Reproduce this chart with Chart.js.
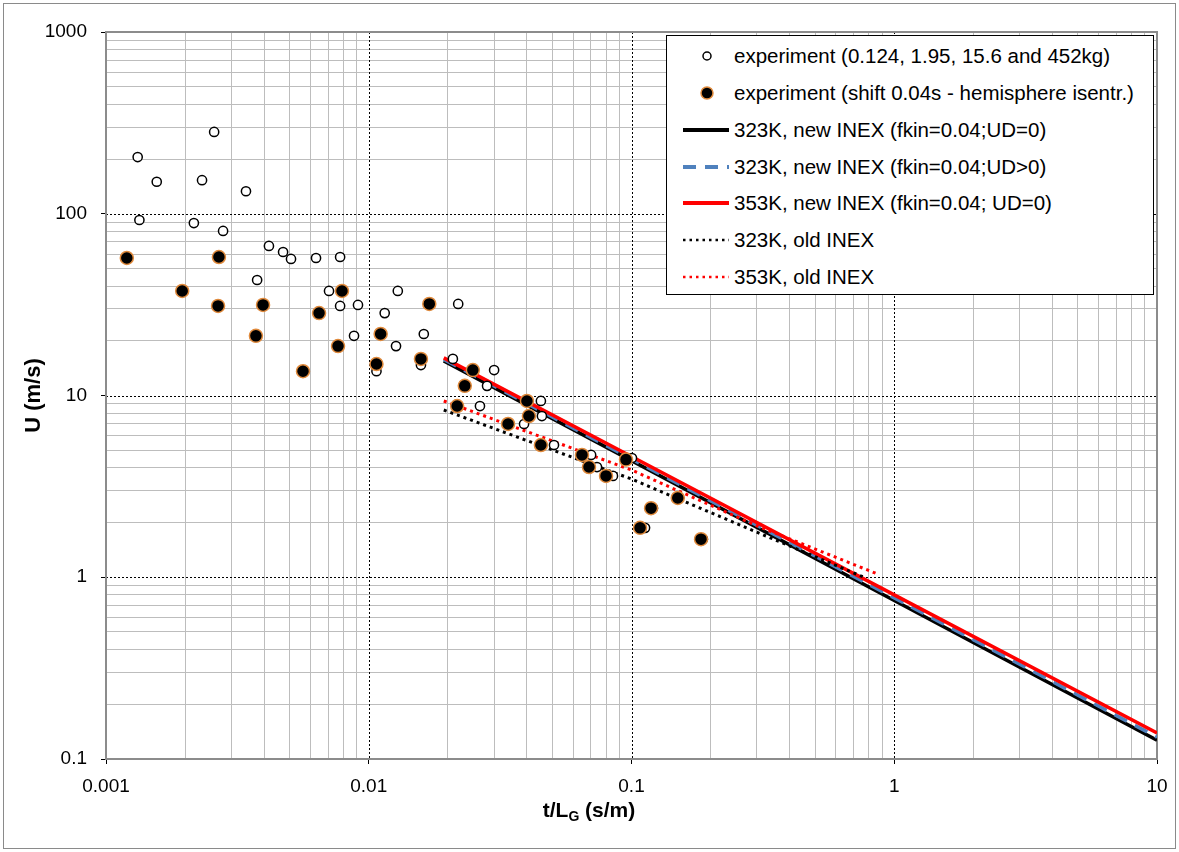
<!DOCTYPE html>
<html>
<head>
<meta charset="utf-8">
<script src="https://cdn.jsdelivr.net/npm/chart.js@4.4.1/dist/chart.umd.min.js"></script>
<style>
  html, body { margin: 0; padding: 0; background: #fff; }
  #wrap { position: relative; width: 1179px; height: 852px; }
  #frame { position: absolute; left: 3px; top: 3px; width: 1171px; height: 844px; border: 1px solid #8a8a8a; pointer-events: none; }
  #legend {
    position: absolute; left: 666px; top: 35px; width: 486px; height: 258px;
    border: 1px solid #000; background: #fff;
    font-family: "Liberation Sans", Arial, sans-serif; font-size: 20.5px; color: #000;
  }
  #legend .row { position: absolute; left: 0; height: 30px; display: flex; align-items: center; }
  #legend svg { width: 52px; height: 30px; margin-left: 14px; }
  #legend span { margin-left: 1px; white-space: nowrap; }
</style>
</head>
<body>
<div id="wrap">
  <canvas id="chart" width="1179" height="852"></canvas>
  <div id="frame"></div>
  <div id="legend"></div>
</div>
<script>
/* ---------- Daten ---------- */

// experiment (0.124, 1.95, 15.6 and 452kg)
const expT = [0.00132, 0.00156, 0.00232, 0.00258, 0.00341, 0.00134, 0.00216, 0.00279,
  0.00417, 0.00472, 0.00506, 0.0063, 0.00778, 0.00376, 0.00706, 0.00778, 0.0091, 0.00879,
  0.0129, 0.0115, 0.0127, 0.0162, 0.0107, 0.0158, 0.0219, 0.0209, 0.0300, 0.0282, 0.0265,
  0.0452, 0.0456, 0.039, 0.0507, 0.0702, 0.0739, 0.085, 0.1004, 0.1207, 0.1126, 0.187, 0.1516];
const expU = [205, 150, 153, 282, 133, 92.4, 88.9, 80.4,
  66.5, 61.6, 56.4, 57.1, 57.8, 43.2, 37.6, 31.1, 31.5, 21.3,
  37.6, 28.4, 18.7, 21.8, 13.6, 14.7, 31.9, 15.9, 13.8, 11.3, 8.75,
  9.33, 7.71, 6.97, 5.34, 4.71, 4.04, 3.61, 4.53, 2.40, 1.87, 1.62, 2.73];

// experiment (shift 0.04s - hemisphere isentr.)
const shiftT = [0.0012, 0.00195, 0.00267, 0.00269, 0.00396, 0.00372, 0.00562, 0.00647,
  0.00764, 0.00791, 0.0111, 0.0107, 0.0158, 0.0170, 0.0249, 0.0232, 0.0217, 0.0400,
  0.0407, 0.0339, 0.0452, 0.0648, 0.0689, 0.080, 0.0953, 0.150, 0.1187, 0.1078, 0.1839];
const shiftU = [57.1, 37.6, 31.1, 57.8, 31.5, 21.3, 13.6, 28.4,
  18.7, 37.6, 21.8, 14.9, 15.9, 31.9, 13.8, 11.3, 8.75, 9.33,
  7.71, 6.97, 5.34, 4.71, 4.04, 3.61, 4.44, 2.73, 2.40, 1.87, 1.62];

// Modellkurven
const new323T = [0.0193, 0.1, 1, 10];
const new323U = [15.5, 4.38, 0.745, 0.127];
const new323udT = [0.0193, 0.1, 1, 10];
const new323udU = [15.8, 4.47, 0.77, 0.132];
const new353T = [0.0193, 0.1, 1, 10];
const new353U = [16.1, 4.62, 0.80, 0.139];
const old323T = [0.0193, 0.1, 0.3, 0.767];
const old323U = [8.32, 3.47, 1.77, 1.0];
const old353T = [0.0193, 0.1, 0.3, 0.867];
const old353U = [9.33, 3.89, 1.92, 1.04];

// Achsen
const xMajor = [0.001, 0.01, 0.1, 1, 10];
const xLabels = ['0.001', '0.01', '0.1', '1', '10'];
const yMajor = [0.1, 1, 10, 100, 1000];
const yLabels = ['0.1', '1', '10', '100', '1000'];
const minorSteps = [2, 3, 4, 5, 6, 7, 8, 9];

const legendNames = [
  'experiment (0.124, 1.95, 15.6 and 452kg)',
  'experiment (shift 0.04s - hemisphere isentr.)',
  '323K, new INEX (fkin=0.04;UD=0)',
  '323K, new INEX (fkin=0.04;UD>0)',
  '353K, new INEX (fkin=0.04; UD=0)',
  '323K, old INEX',
  '353K, old INEX'
];

/* ---------- Hilfen ---------- */

const pts = (xs, ys) => xs.map((x, i) => ({ x, y: ys[i] }));

function logTicks(majors) {
  const out = [];
  majors.forEach((m, i) => {
    out.push({ value: m, major: true });
    if (i < majors.length - 1) minorSteps.forEach(k => out.push({ value: m * k, major: false }));
  });
  return out;
}

const FONT = '"Liberation Sans", Arial, sans-serif';

/* ---------- Plugin: Gitter, Rahmen, Achsentitel ---------- */

const decor = {
  id: 'decor',
  beforeDatasetsDraw(chart) {
    const { ctx, chartArea: a, scales: { x, y } } = chart;
    ctx.save();
    ctx.strokeStyle = '#000';
    ctx.lineWidth = 1;
    ctx.setLineDash([2, 2]);
    xMajor.slice(1, -1).forEach(v => {
      const px = Math.round(x.getPixelForValue(v)) + 0.5;
      ctx.beginPath(); ctx.moveTo(px, a.top); ctx.lineTo(px, a.bottom); ctx.stroke();
    });
    yMajor.slice(1, -1).forEach(v => {
      const py = Math.round(y.getPixelForValue(v)) + 0.5;
      ctx.beginPath(); ctx.moveTo(a.left, py); ctx.lineTo(a.right, py); ctx.stroke();
    });
    ctx.setLineDash([]);
    ctx.strokeStyle = '#8c8c8c';
    ctx.lineWidth = 2;
    ctx.strokeRect(a.left, a.top, a.width, a.height);
    ctx.restore();
  },
  afterDraw(chart) {
    const { ctx, chartArea: a } = chart;
    ctx.save();
    ctx.fillStyle = '#000';
    ctx.textBaseline = 'alphabetic';
    // x title with subscript
    const big = 'bold 21px ' + FONT, small = 'bold 14px ' + FONT;
    ctx.font = big;
    const w1 = ctx.measureText('t/L').width;
    const w3 = ctx.measureText(' (s/m)').width;
    ctx.font = small;
    const w2 = ctx.measureText('G').width;
    let x0 = 589 - (w1 + w2 + w3) / 2;
    const base = 817;
    ctx.font = big; ctx.textAlign = 'left';
    ctx.fillText('t/L', x0, base);
    ctx.font = small;
    ctx.fillText('G', x0 + w1, base + 4);
    ctx.font = big;
    ctx.fillText(' (s/m)', x0 + w1 + w2, base);
    // y title
    ctx.translate(34, (a.top + a.bottom) / 2);
    ctx.rotate(-Math.PI / 2);
    ctx.textAlign = 'center';
    ctx.textBaseline = 'middle';
    ctx.font = 'bold 22px ' + FONT;
    ctx.fillText('U (m/s)', 0, 0);
    ctx.restore();
  }
};

/* ---------- Chart ---------- */

const lineDs = (label, xs, ys, color, width, dash) => ({
  label, data: pts(xs, ys), showLine: true, borderColor: color, backgroundColor: color,
  borderWidth: width, borderDash: dash || [], pointRadius: 0, tension: 0, fill: false
});

new Chart(document.getElementById('chart'), {
  type: 'scatter',
  data: {
    datasets: [
      {
        label: legendNames[1], data: pts(shiftT, shiftU),
        pointStyle: 'circle', pointRadius: 6.5, pointBackgroundColor: '#000',
        pointBorderColor: '#e08a3c', pointBorderWidth: 1.5
      },
      {
        label: legendNames[0], data: pts(expT, expU),
        pointStyle: 'circle', pointRadius: 4.6, pointBackgroundColor: '#fff',
        pointBorderColor: '#000', pointBorderWidth: 1.5
      },
      lineDs(legendNames[6], old353T, old353U, '#ff0000', 3, [3, 4]),
      lineDs(legendNames[5], old323T, old323U, '#000', 3, [3, 4]),
      lineDs(legendNames[4], new353T, new353U, '#ff0000', 3.5),
      lineDs(legendNames[3], new323udT, new323udU, '#4f81bd', 3.5, [14, 9]),
      lineDs(legendNames[2], new323T, new323U, '#000', 3.5)
    ]
  },
  options: {
    responsive: false,
    animation: false,
    layout: { padding: { top: 32, right: 22, left: 0, bottom: 0 } },
    plugins: { legend: { display: false }, tooltip: { enabled: false } },
    scales: {
      x: {
        type: 'logarithmic', min: 0.001, max: 10,
        afterBuildTicks: s => { s.ticks = logTicks(xMajor); },
        afterFit: s => { s.height = 93; },
        border: { display: false },
        grid: {
          color: c => (c.tick && c.tick.major) ? 'rgba(0,0,0,0)' : '#bdbdbd',
          lineWidth: 1,
          tickLength: 5,
          tickColor: c => (c.tick && c.tick.major) ? '#000' : 'rgba(0,0,0,0)'
        },
        ticks: {
          autoSkip: false, maxRotation: 0, padding: 11, color: '#000',
          font: { family: FONT, size: 19 },
          callback: (v, i, t) => t[i].major ? xLabels[xMajor.indexOf(t[i].value)] : ''
        }
      },
      y: {
        type: 'logarithmic', min: 0.1, max: 1000,
        afterBuildTicks: s => { s.ticks = logTicks(yMajor); },
        afterFit: s => { s.width = 106; },
        border: { display: false },
        grid: {
          color: c => (c.tick && c.tick.major) ? 'rgba(0,0,0,0)' : '#bdbdbd',
          lineWidth: 1,
          tickLength: 5,
          tickColor: c => (c.tick && c.tick.major) ? '#000' : 'rgba(0,0,0,0)'
        },
        ticks: {
          autoSkip: false, padding: 14, color: '#000',
          font: { family: FONT, size: 19 },
          callback: (v, i, t) => t[i].major ? yLabels[yMajor.indexOf(t[i].value)] : ''
        }
      }
    }
  },
  plugins: [decor]
});

/* ---------- Legende (HTML) ---------- */

const legendMarks = [
  '<circle cx="26" cy="15" r="4" fill="#fff" stroke="#000" stroke-width="1.5"/>',
  '<circle cx="26" cy="15" r="6" fill="#000" stroke="#e08a3c" stroke-width="1.5"/>',
  '<line x1="2" y1="15" x2="48" y2="15" stroke="#000" stroke-width="4"/>',
  '<line x1="2" y1="15" x2="48" y2="15" stroke="#4f81bd" stroke-width="4" stroke-dasharray="13,9"/>',
  '<line x1="2" y1="15" x2="48" y2="15" stroke="#ff0000" stroke-width="4"/>',
  '<line x1="2" y1="15" x2="48" y2="15" stroke="#000" stroke-width="2.5" stroke-dasharray="2.5,4"/>',
  '<line x1="2" y1="15" x2="48" y2="15" stroke="#ff0000" stroke-width="2.5" stroke-dasharray="2.5,4"/>'
];
const rowTops = [5, 42, 79, 116, 152, 189, 226];
const legendEl = document.getElementById('legend');
legendNames.forEach((name, i) => {
  const row = document.createElement('div');
  row.className = 'row';
  row.style.top = rowTops[i] + 'px';
  row.innerHTML = '<svg viewBox="0 0 52 30">' + legendMarks[i] + '</svg><span></span>';
  row.querySelector('span').textContent = name;
  legendEl.appendChild(row);
});
</script>
</body>
</html>
